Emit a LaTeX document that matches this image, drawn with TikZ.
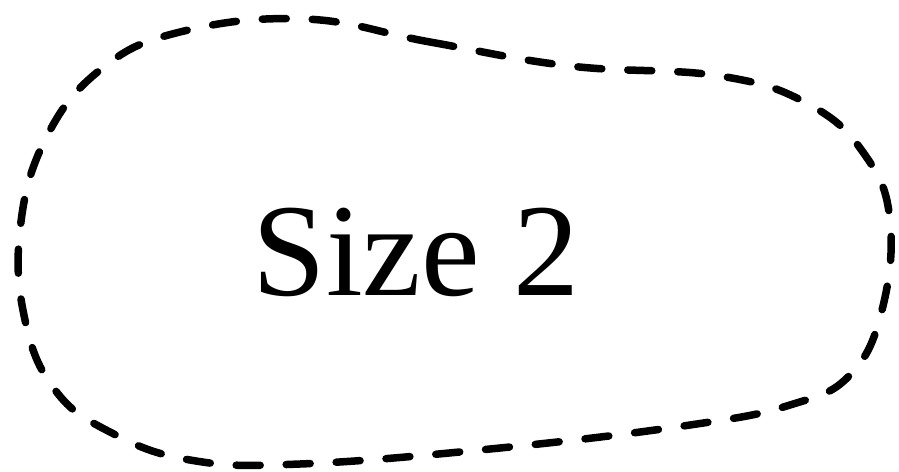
\documentclass[tikz,border=0pt]{standalone}
\usepackage{fontspec}
\setmainfont{Liberation Serif}
\begin{document}
\begin{tikzpicture}[x=1pt,y=-1pt,
  blob/.style={draw=black,line width=7.5pt,line cap=round,dash pattern=on 24pt off 26pt},
  lbl/.style={font=\fontsize{132}{140}\selectfont,inner sep=0pt}]
\useasboundingbox (0,0) rectangle (899,471);
\draw[blob] plot[smooth cycle,tension=0.7] coordinates{
 (305,19) (430,42) (570,66) (720,76) (810,105) (865,155) (890,220)
 (882,310) (850,375) (790,405) (690,425) (500,448) (300,464) (190,460)
 (110,432) (55,390) (25,320) (20,230) (45,140) (100,70) (180,32)};
\node[lbl] (t) at (416,252) {Size 2};
\end{tikzpicture}
\end{document}
